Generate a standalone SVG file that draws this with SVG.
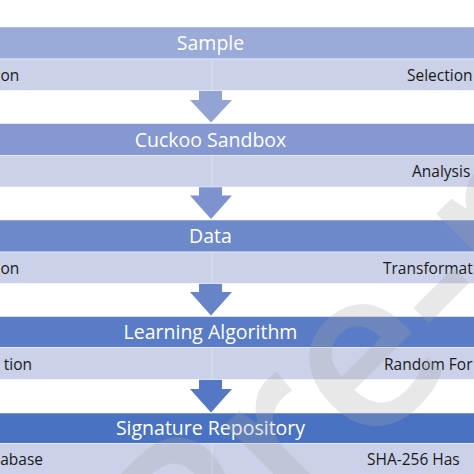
<svg xmlns="http://www.w3.org/2000/svg" width="474" height="474" viewBox="0 0 474 474">
<style>
.hdr{font-family:"Open Sans","Noto Sans",sans-serif;font-size:19.5px;fill:#ffffff;text-anchor:middle}
.sub{font-family:"Open Sans","Noto Sans",sans-serif;font-size:15.5px;fill:#1a1a1a}
.subband{fill:#CAD1E9;stroke:#ffffff;stroke-opacity:0.5;stroke-width:1}
.hband{stroke:#ffffff;stroke-opacity:0.5;stroke-width:1}
.div{stroke:#DCE0F0;stroke-width:1}
.wm{font-family:"Open Sans","Noto Sans",sans-serif;font-size:225px;font-weight:600;fill:#A6A6A6;fill-opacity:0.26}
</style>
<rect width="474" height="474" fill="#ffffff"/>
<g id="connectors">
<path d="M199,90.5 H222 V100 H232 L211,122.5 L190,100 H199 Z" fill="#92A3D5"/>
<path d="M199,187 H222 V195.5 H232 L211,219 L190,195.5 H199 Z" fill="#7D92CF"/>
<path d="M199,283.5 H222 V292 H232 L211,315.5 L190,292 H199 Z" fill="#6784C9"/>
<path d="M199,379.5 H222 V389 H232 L211,412.5 L190,389 H199 Z" fill="#5478C5"/>
</g>
<g id="sample">
<rect class="hband" x="-5" y="27" width="490" height="32" fill="#9AAAD9"/>
<rect class="subband" x="-5" y="59" width="490" height="31.5"/>
<line class="div" x1="212" y1="59.5" x2="212" y2="90"/>
<text class="hdr" x="210.5" y="50">Sample</text>
<text class="sub" x="0.5" y="81">on</text>
<text class="sub" x="407" y="81">Selection</text>
</g>
<g id="cuckoo">
<rect class="hband" x="-5" y="123.5" width="490" height="32" fill="#8598D1"/>
<rect class="subband" x="-5" y="155.5" width="490" height="31.5"/>
<line class="div" x1="212" y1="156" x2="212" y2="186.5"/>
<text class="hdr" x="210.5" y="146.5">Cuckoo Sandbox</text>
<text class="sub" x="412" y="177">Analysis</text>
</g>
<g id="data">
<rect class="hband" x="-5" y="220" width="490" height="32" fill="#6D89CA"/>
<rect class="subband" x="-5" y="252" width="490" height="31.5"/>
<line class="div" x1="212" y1="252.5" x2="212" y2="283"/>
<text class="hdr" x="210.5" y="243">Data</text>
<text class="sub" x="0.5" y="273.5">on</text>
<text class="sub" x="383" y="273.5">Transformat</text>
</g>
<g id="learning">
<rect class="hband" x="-5" y="316.5" width="490" height="31" fill="#5A7CC6"/>
<rect class="subband" x="-5" y="347.5" width="490" height="32"/>
<line class="div" x1="212" y1="348" x2="212" y2="379"/>
<text class="hdr" x="210.5" y="339">Learning Algorithm</text>
<text class="sub" x="32" y="369.5" text-anchor="end">tion</text>
<text class="sub" x="384" y="369.5">Random For</text>
</g>
<g id="signature">
<rect class="hband" x="-5" y="413" width="490" height="30.5" fill="#4A72C3"/>
<rect class="subband" x="-5" y="443.5" width="490" height="35"/>
<line class="div" x1="212" y1="444" x2="212" y2="474"/>
<text class="hdr" x="210.5" y="435">Signature Repository</text>
<text class="sub" x="43" y="465" text-anchor="end">abase</text>
<text class="sub" x="367" y="465">SHA-256 Has</text>
</g>
<text class="wm" transform="translate(200,622) rotate(-45)">Pre-proof</text>
</svg>
